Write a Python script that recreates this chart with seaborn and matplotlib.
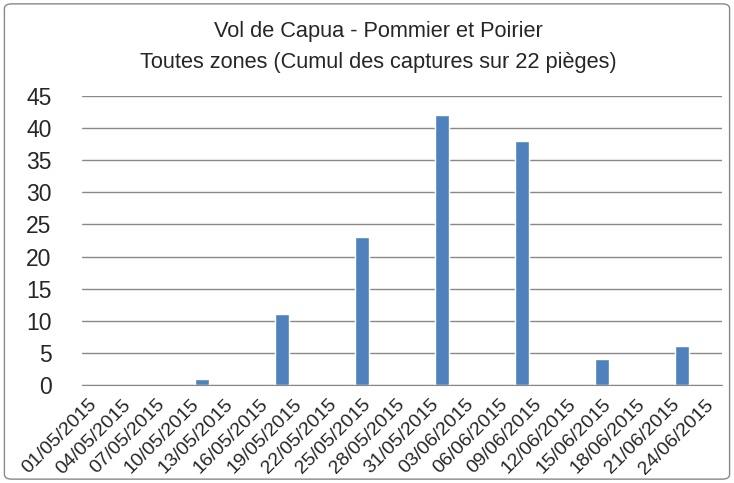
import pandas as pd
import matplotlib.pyplot as plt
import seaborn as sns
from matplotlib.patches import FancyBboxPatch

# Relevés hebdomadaires (cumul des captures sur 22 pièges)
dates = ["11/05/2015", "18/05/2015", "25/05/2015", "01/06/2015",
         "08/06/2015", "15/06/2015", "22/06/2015"]
captures = [1, 11, 23, 42, 38, 4, 6]

axis_start = "01/05/2015"
axis_days = 56          # axe date : 01/05 -> 25/06 inclus
label_step = 3          # étiquettes tous les 3 jours
tick_step = 3.5         # graduations

start = pd.to_datetime(axis_start, dayfirst=True)
df = pd.DataFrame({"date": pd.to_datetime(dates, dayfirst=True), "captures": captures})
df["jour"] = (df["date"] - start).dt.days + 0.5

sns.set_style("white")
plt.rcParams["font.family"] = ["Liberation Sans Narrow", "Liberation Sans", "DejaVu Sans"]

fig = plt.figure(figsize=(7.34, 4.83), dpi=100)
ax = fig.add_axes([0.1117, 0.2029, 0.872, 0.5983])

sns.barplot(data=df, x="jour", y="captures", native_scale=True, width=1.3 / 7,
            color="#4F81BD", saturation=1, ax=ax)

ax.set_xlim(0, axis_days)
ax.set_ylim(0, 45)
ax.set_yticks(range(0, 46, 5))
ax.yaxis.grid(True, color="#898989", linewidth=1)
ax.set_axisbelow(True)

label_pos = [d + 0.5 for d in range(0, axis_days - 1, label_step)]
labels = [(start + pd.Timedelta(days=d)).strftime("%d/%m/%Y") for d in range(0, axis_days - 1, label_step)]
ax.set_xticks(label_pos)
ax.set_xticklabels(labels, rotation=45, ha="right", rotation_mode="anchor", fontsize=14)
ax.set_xticks([k * tick_step for k in range(17)], minor=True)
ax.tick_params(axis="x", which="major", length=0, pad=8)
ax.tick_params(axis="x", which="minor", length=5, width=1, color="#898989", direction="inout")
ax.tick_params(axis="y", length=0, labelsize=16.5, pad=22)

for side in ["top", "right", "left"]:
    ax.spines[side].set_visible(False)
ax.spines["bottom"].set_color("#898989")
ax.set_xlabel("")
ax.set_ylabel("")

fig.text(0.515, 0.935, "Vol de Capua - Pommier et Poirier", ha="center", va="center", fontsize=15.7)
fig.text(0.515, 0.87, "Toutes zones (Cumul des captures sur 22 pièges)", ha="center", va="center", fontsize=15.7)

fig.patches.append(FancyBboxPatch((0.006, 0.008), 0.988, 0.984, boxstyle="round,pad=0,rounding_size=0.01",
                                  transform=fig.transFigure, fill=False, edgecolor="#898989", linewidth=1))

plt.savefig("out.png", dpi=100)
